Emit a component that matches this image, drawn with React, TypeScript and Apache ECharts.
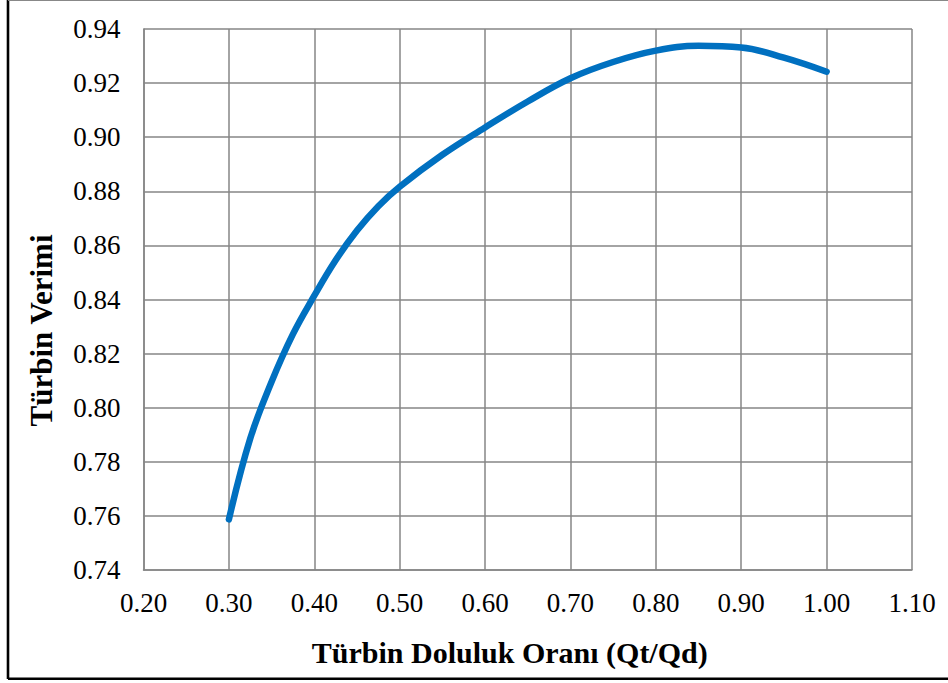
import React, { useEffect, useRef } from "react";
import * as echarts from "echarts";

const xValues = [0.300, 0.325, 0.350, 0.375, 0.400, 0.425, 0.450, 0.475, 0.50, 0.55, 0.60, 0.65, 0.70, 0.75, 0.80, 0.85, 0.90, 0.95, 1.00];
const efficiency = [0.7587, 0.7886, 0.8096, 0.8272, 0.8414, 0.8545, 0.8655, 0.8745, 0.8817, 0.8935, 0.9036, 0.9132, 0.9218, 0.9278, 0.9320, 0.9338, 0.9332, 0.9294, 0.9242];
const xTitle = "Türbin Doluluk Oranı (Qt/Qd)";
const yTitle = "Türbin Verimi";

const FONT = "'Liberation Serif', 'Times New Roman', serif";

export default function App() {
  const ref = useRef<HTMLDivElement>(null);
  useEffect(() => {
    if (!ref.current) return;
    const chart = echarts.init(ref.current, undefined, { renderer: "svg" });
    const data = xValues.map((x, i) => [x, efficiency[i]]);
    chart.setOption({
      animation: false,
      backgroundColor: "#ffffff",
      grid: { left: 143.5, top: 29, width: 768.5, height: 541, containLabel: false },
      xAxis: {
        type: "value",
        min: 0.2,
        max: 1.1,
        interval: 0.1,
        name: xTitle,
        nameLocation: "middle",
        nameGap: 67,
        nameTextStyle: { fontFamily: FONT, fontSize: 30, fontWeight: "bold", color: "#000", padding: [0, 36, 0, 0] },
        axisLine: { show: true, lineStyle: { color: "#868686", width: 1.5 } },
        axisTick: { show: false },
        splitLine: { show: true, lineStyle: { color: "#868686", width: 1.5 } },
        axisLabel: {
          fontFamily: FONT,
          fontSize: 27,
          color: "#000",
          margin: 19,
          formatter: (v: number) => v.toFixed(2),
        },
      },
      yAxis: {
        type: "value",
        min: 0.74,
        max: 0.94,
        interval: 0.02,
        name: yTitle,
        nameLocation: "middle",
        nameGap: 87,
        nameRotate: 90,
        nameTextStyle: { fontFamily: FONT, fontSize: 31, fontWeight: "bold", color: "#000", padding: [0, 62, 0, 0] },
        axisLine: { show: true, lineStyle: { color: "#868686", width: 1.5 } },
        axisTick: { show: false },
        splitLine: { show: true, lineStyle: { color: "#868686", width: 1.5 } },
        axisLabel: {
          fontFamily: FONT,
          fontSize: 27,
          color: "#000",
          margin: 23,
          formatter: (v: number) => v.toFixed(2),
        },
      },
      series: [
        {
          type: "line",
          data,
          smooth: 0.4,
          showSymbol: false,
          lineStyle: { color: "#0070C0", width: 6.5, cap: "round", join: "round" },
        },
      ],
      graphic: [
        { type: "line", shape: { x1: 8, y1: 0, x2: 8, y2: 679 }, style: { stroke: "#000", lineWidth: 2.6 } },
        { type: "line", shape: { x1: 8, y1: 678.7, x2: 948, y2: 678.7 }, style: { stroke: "#000", lineWidth: 2.6 } },
        { type: "line", shape: { x1: 8, y1: 0.5, x2: 948, y2: 0.5 }, style: { stroke: "#888", lineWidth: 1 } },
      ],
    });
    return () => chart.dispose();
  }, []);
  return (
    <div
      ref={ref}
      style={{ position: "fixed", left: 0, top: 0, width: 948, height: 683, background: "#fff" }}
    />
  );
}
